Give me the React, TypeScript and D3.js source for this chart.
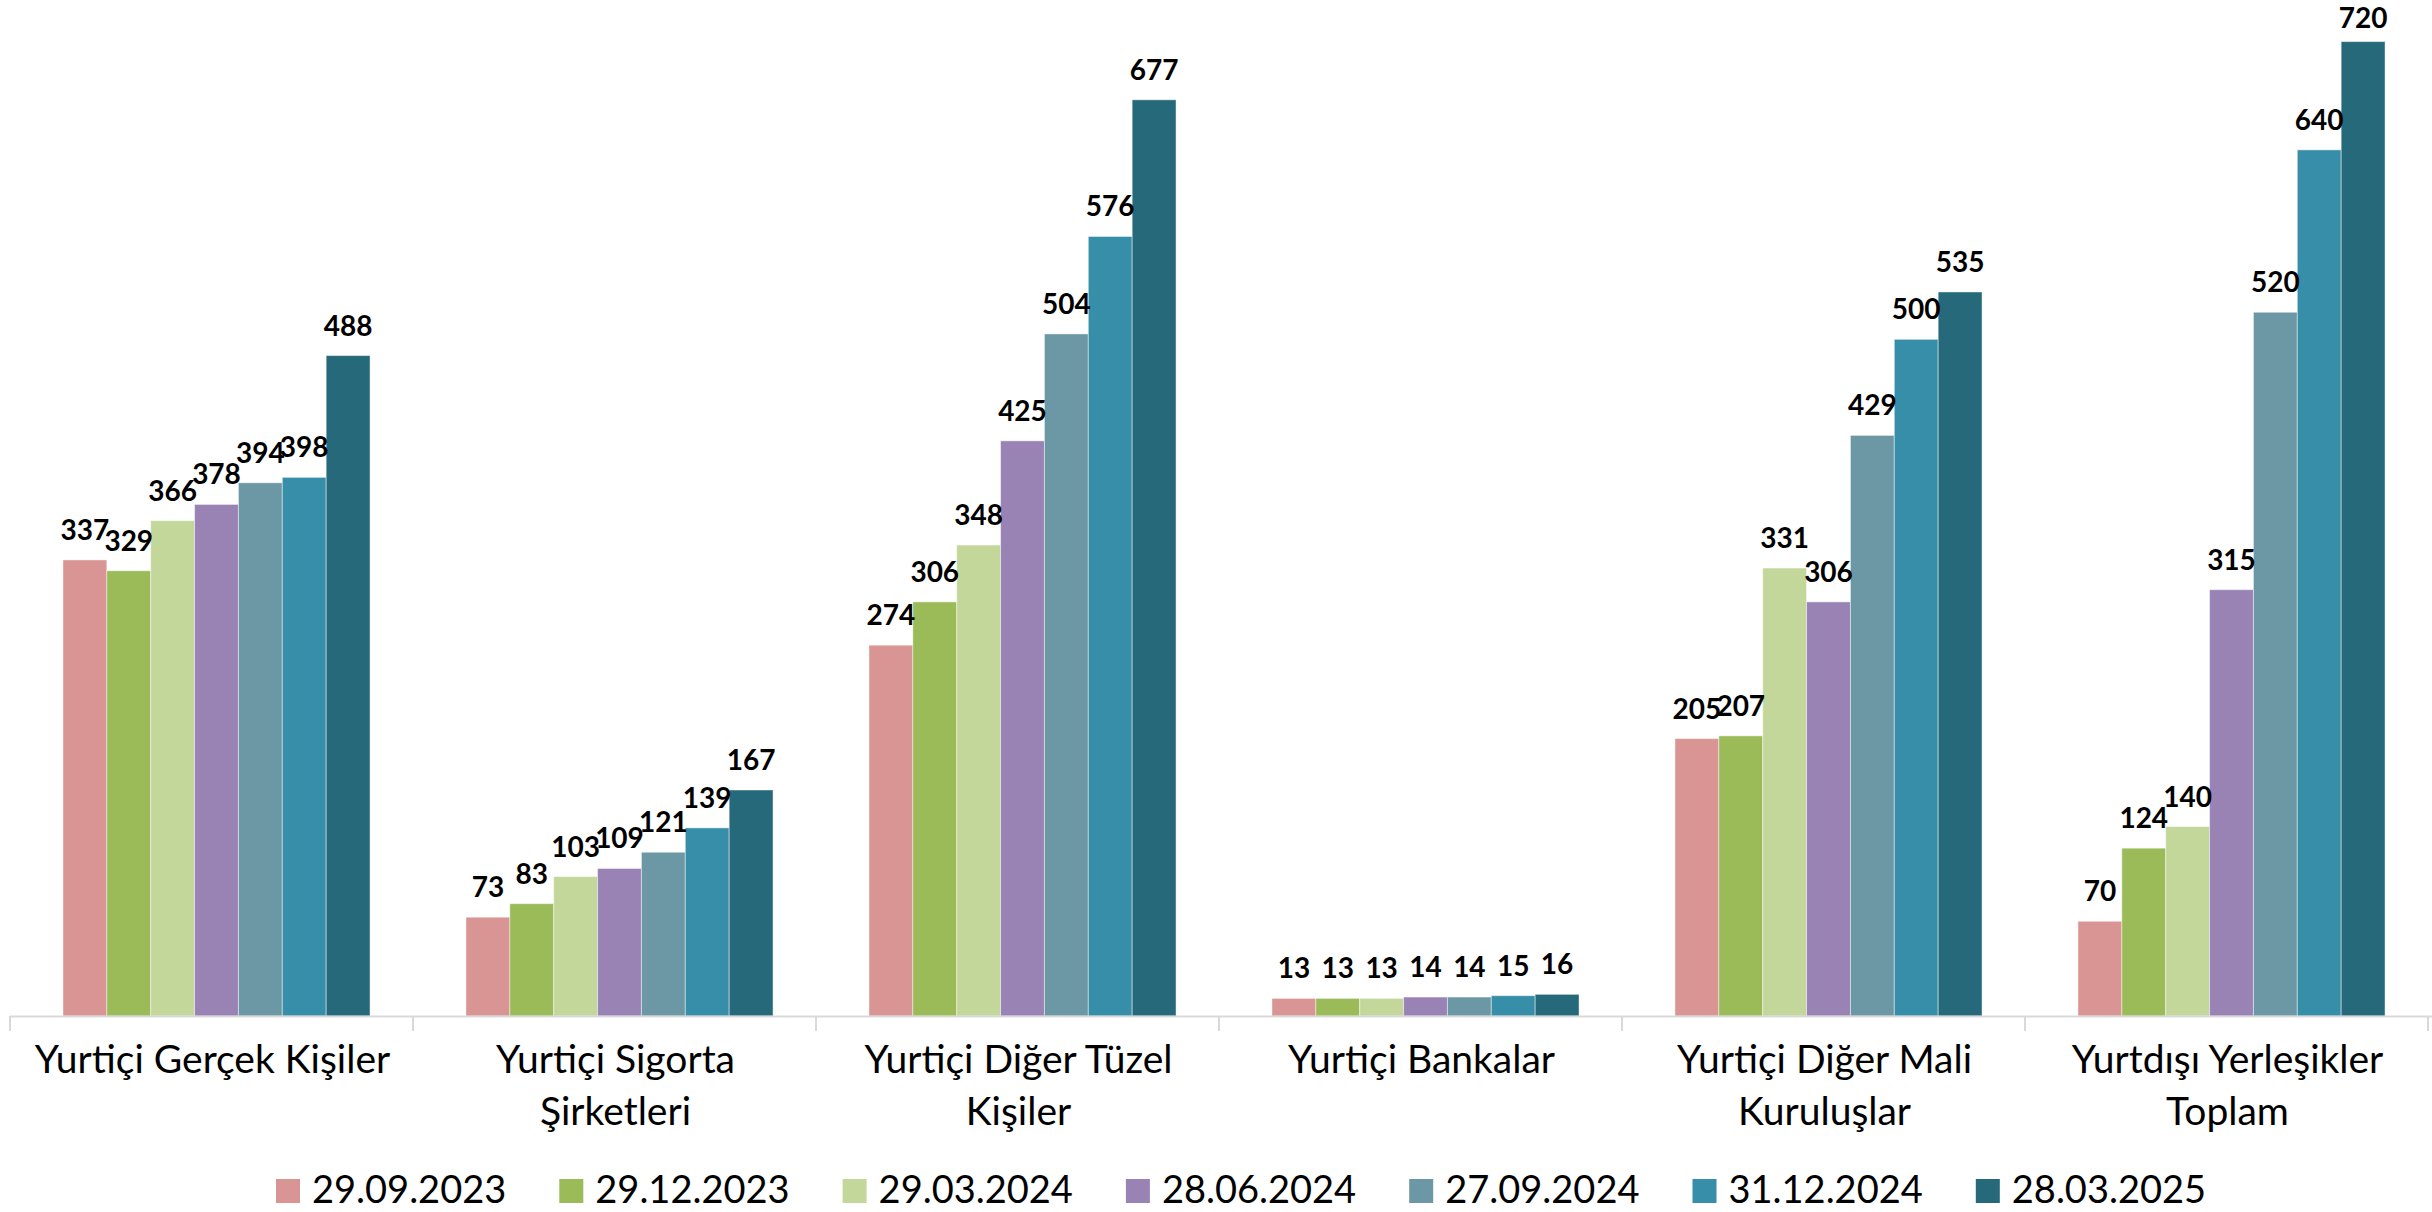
import React from "react";
import * as d3 from "d3";

const categories: string[][] = [
  ["Yurtiçi Gerçek Kişiler"],
  ["Yurtiçi Sigorta", "Şirketleri"],
  ["Yurtiçi Diğer Tüzel", "Kişiler"],
  ["Yurtiçi Bankalar"],
  ["Yurtiçi Diğer Mali", "Kuruluşlar"],
  ["Yurtdışı Yerleşikler", "Toplam"],
];

const seriesNames: string[] = [
  "29.09.2023",
  "29.12.2023",
  "29.03.2024",
  "28.06.2024",
  "27.09.2024",
  "31.12.2024",
  "28.03.2025",
];

const s2023_09: number[] = [337, 73, 274, 13, 205, 70];
const s2023_12: number[] = [329, 83, 306, 13, 207, 124];
const s2024_03: number[] = [366, 103, 348, 13, 331, 140];
const s2024_06: number[] = [378, 109, 425, 14, 306, 315];
const s2024_09: number[] = [394, 121, 504, 14, 429, 520];
const s2024_12: number[] = [398, 139, 576, 15, 500, 640];
const s2025_03: number[] = [488, 167, 677, 16, 535, 720];

const seriesValues: number[][] = [s2023_09, s2023_12, s2024_03, s2024_06, s2024_09, s2024_12, s2025_03];

const colors: string[] = ["#D99594", "#9BBB59", "#C4D79B", "#9983B5", "#6C97A4", "#378EA8", "#26697A"];

const W = 2432;
const H = 1212;

export default function App() {
  const plotLeft = 15;
  const plotRight = 2433;
  const baseY = 1016;
  const x0 = d3
    .scaleBand<number>()
    .domain(categories.map((_, i) => i))
    .range([plotLeft, plotRight])
    .paddingInner(0)
    .paddingOuter(0);
  const bw = x0.bandwidth();
  const x1 = d3
    .scaleBand<number>()
    .domain(seriesNames.map((_, i) => i))
    .range([bw * 0.119, bw * 0.881])
    .padding(0);
  const y = d3.scaleLinear().domain([0, 750]).range([baseY, 1]);

  const font = "Lato, 'Open Sans', sans-serif";
  const legendStart = 276;
  const legendStep = 283.3;
  const labelSize = 28;

  return (
    <svg
      width={W}
      height={H}
      style={{ position: "absolute", left: 0, top: 0, background: "#fff" }}
      fontFamily={font}
    >
      {categories.map((cat, ci) => (
        <g key={ci} transform={`translate(${x0(ci)},0)`}>
          {seriesValues.map((vals, si) => {
            const v = vals[ci];
            return (
              <rect
                key={si}
                x={x1(si)}
                y={y(v)}
                width={x1.bandwidth()}
                height={baseY - y(v)}
                fill={colors[si]}
                stroke="#ffffff"
                strokeOpacity={0.45}
                strokeWidth={1}
              />
            );
          })}
          {seriesValues.map((vals, si) => {
            const v = vals[ci];
            return (
              <text
                key={"l" + si}
                x={(x1(si) as number) + x1.bandwidth() / 2}
                y={Math.max(y(v) - 20, 28)}
                textAnchor="middle"
                fontSize={labelSize}
                fontWeight="bold"
                fill="#000"
              >
                {v}
              </text>
            );
          })}
        </g>
      ))}
      <line x1={plotLeft - 5} x2={W} y1={baseY + 0.5} y2={baseY + 0.5} stroke="#D9D9D9" strokeWidth={2} />
      {d3.range(categories.length + 1).map((i) => {
        const xx = i < categories.length ? (x0(i) as number) : plotRight;
        return <line key={"t" + i} x1={xx - 5} x2={xx - 5} y1={baseY} y2={baseY + 15} stroke="#D9D9D9" strokeWidth={2} />;
      })}
      {categories.map((cat, ci) => (
        <text
          key={"c" + ci}
          x={(x0(ci) as number) + bw / 2 - 4}
          y={1073}
          textAnchor="middle"
          fontSize={39}
          fill="#000"
        >
          {cat.map((line, li) => (
            <tspan key={li} x={(x0(ci) as number) + bw / 2 - 4} dy={li === 0 ? 0 : 52}>
              {line}
            </tspan>
          ))}
        </text>
      ))}
      {seriesNames.map((name, si) => (
        <g key={"lg" + si} transform={`translate(${legendStart + si * legendStep},0)`}>
          <rect x={0} y={1179} width={24} height={24} fill={colors[si]} />
          <text x={36} y={1183 + 20} fontSize={38} fill="#000">
            {name}
          </text>
        </g>
      ))}
    </svg>
  );
}
